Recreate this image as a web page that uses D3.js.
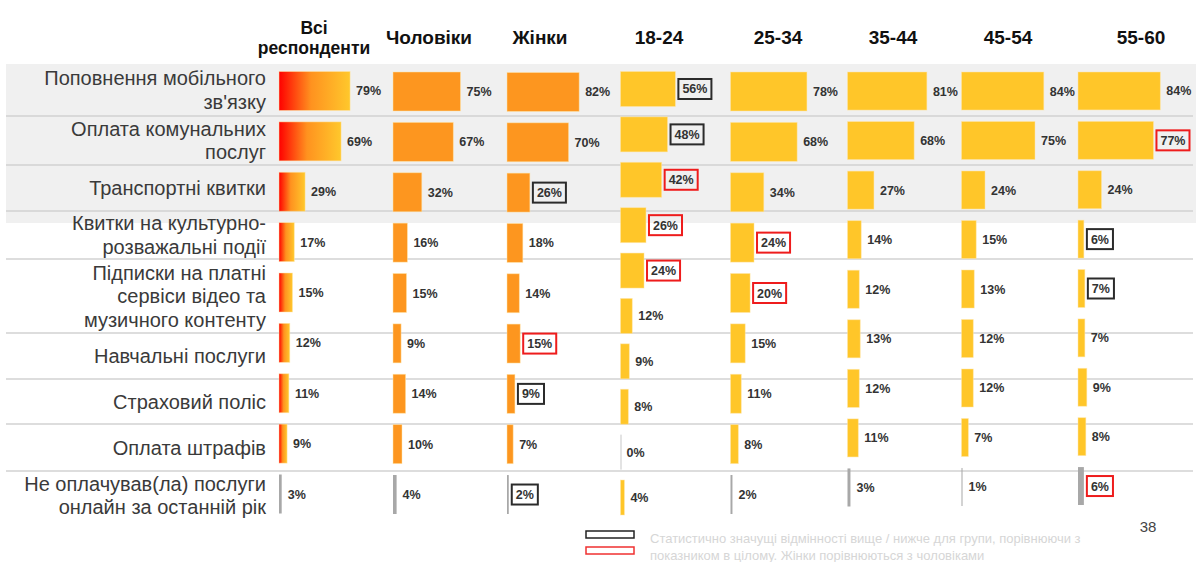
<!DOCTYPE html>
<html>
<head>
<meta charset="utf-8">
<script src="https://cdn.jsdelivr.net/npm/d3@7"></script>
<style>
  body { margin: 0; background: #fff; }
  svg text { font-family: Arial, "Liberation Sans", sans-serif; }
  .cat { font-size: 20px; fill: #3a3a3a; }
  .head { font-size: 19px; font-weight: bold; fill: #111; }
  .val { font-size: 12.5px; font-weight: bold; fill: #333; }
  .note { font-size: 13px; fill: #d6d6d6; }
  .page { font-size: 15px; fill: #444; }
</style>
</head>
<body>
<div id="chart"></div>
<script>
// data
var categories = [
  "Поповнення мобільного\nзв'язку",
  "Оплата комунальних\nпослуг",
  "Транспортні квитки",
  "Квитки на культурно-\nрозважальні події",
  "Підписки на платні\nсервіси відео та\nмузичного контенту",
  "Навчальні послуги",
  "Страховий поліс",
  "Оплата штрафів",
  "Не оплачував(ла) послуги\nонлайн за останній рік"
];
var columnNames = ["Всі\nреспонденти", "Чоловіки", "Жінки", "18-24", "25-34", "35-44", "45-54", "55-60"];

var valuesAll = [79, 69, 29, 17, 15, 12, 11, 9, 3];
var valuesMen = [75, 67, 32, 16, 15, 9, 14, 10, 4];
var valuesWomen = [82, 70, 26, 18, 14, 15, 9, 7, 2];
var values1824 = [56, 48, 42, 26, 24, 12, 9, 8, 0, 4]; // this column has 10 bars on the slide
var values2534 = [78, 68, 34, 24, 20, 15, 11, 8, 2];
var values3544 = [81, 68, 27, 14, 12, 13, 12, 11, 3];
var values4554 = [84, 75, 24, 15, 13, 12, 12, 7, 1];
var values5560 = [84, 77, 24, 6, 7, 7, 9, 8, 6];

// significance marks: "b" = black box, "r" = red box
var sigAll = [];
var sigMen = [];
var sigWomen = ["", "", "b", "", "", "r", "b", "", "b"];
var sig1824 = ["b", "b", "r", "r", "r", "", "", "", "", ""];
var sig2534 = ["", "", "", "r", "r", "", "", "", ""];
var sig3544 = [];
var sig4554 = [];
var sig5560 = ["", "r", "", "b", "b", "", "", "", "r"];

var noteLines = [
  "Статистично значущі відмінності вище / нижче для групи, порівнюючи з",
  "показником в цілому. Жінки порівнюються з чоловіками"
];
var pageNumber = "38";

// layout
var width = 1198, height = 562;
var rowEdges = [64, 116, 165, 211, 259, 333, 379, 424, 471, 520];
var shadedRows = 3;
var COLORS = { orange: "#fd961f", yellow: "#ffc629", gray: "#a8a8a8", red: "#ee1c1c", black: "#2b2b2b" };

var columns = [
  { values: valuesAll,   sig: sigAll,   x0: 279,   span: 90, head: 314,  headSize: 17.5, top: 71.5, bottom: 513.5, pad: 0.226, fill: "url(#grad)" },
  { values: valuesMen,   sig: sigMen,   x0: 393,   span: 90, head: 429,  top: 72,   bottom: 514,   pad: 0.226, fill: COLORS.orange },
  { values: valuesWomen, sig: sigWomen, x0: 507,   span: 88, head: 540,  top: 72.5, bottom: 514,   pad: 0.226, fill: COLORS.orange },
  { values: values1824,  sig: sig1824,  x0: 620.5, span: 98, head: 659,  top: 71.5, bottom: 515,   pad: 0.229, fill: COLORS.yellow },
  { values: values2534,  sig: sig2534,  x0: 730.5, span: 98, head: 778,  top: 72,   bottom: 514,   pad: 0.226, fill: COLORS.yellow },
  { values: values3544,  sig: sig3544,  x0: 847.5, span: 98, head: 893,  top: 72,   bottom: 506.5, pad: 0.232, fill: COLORS.yellow },
  { values: values4554,  sig: sig4554,  x0: 961.5, span: 98, head: 1008, top: 72,   bottom: 506,   pad: 0.232, fill: COLORS.yellow },
  { values: values5560,  sig: sig5560,  x0: 1078,  span: 98, head: 1141, top: 72,   bottom: 505,   pad: 0.232, fill: COLORS.yellow }
];
var noneIndex = 8; // "Не оплачував" bar is drawn gray

var svg = d3.select("#chart").append("svg")
  .attr("width", width)
  .attr("height", height);

var defs = svg.append("defs");
var grad = defs.append("linearGradient").attr("id", "grad")
  .attr("x1", "0%").attr("x2", "100%").attr("y1", "0%").attr("y2", "0%");
grad.append("stop").attr("offset", "0%").attr("stop-color", "#ff0000");
grad.append("stop").attr("offset", "45%").attr("stop-color", "#ff921f");
grad.append("stop").attr("offset", "100%").attr("stop-color", "#ffc82c");

// shaded band behind first rows
svg.append("rect")
  .attr("x", 6).attr("width", 1190)
  .attr("y", rowEdges[0])
  .attr("height", rowEdges[shadedRows] - rowEdges[0] + 12)
  .attr("fill", "#f0f0f0");

// row separators
svg.append("g").selectAll("line")
  .data(rowEdges.slice(1, -1))
  .enter().append("line")
  .attr("x1", 6).attr("x2", 1193)
  .attr("y1", d => d).attr("y2", d => d)
  .attr("stroke", "#d2d2d2")
  .attr("stroke-width", 1.5);

// category labels
var lineH = 23.5;
var cat = svg.append("g").selectAll("text")
  .data(categories)
  .enter().append("text")
  .attr("class", "cat")
  .attr("text-anchor", "end")
  .attr("x", 266)
  .attr("y", (d, i) => (rowEdges[i] + rowEdges[i + 1]) / 2);
cat.each(function(d) {
  var lines = d.split("\n");
  var t = d3.select(this);
  lines.forEach(function(l, j) {
    t.append("tspan")
      .attr("x", 266)
      .attr("dy", j === 0 ? ((-(lines.length - 1) / 2) * lineH + 7) : lineH)
      .text(l);
  });
});

// column headers
columns.forEach(function(c, ci) {
  var lines = columnNames[ci].split("\n");
  var t = svg.append("text")
    .attr("class", "head")
    .attr("text-anchor", "middle")
    .attr("x", c.head)
    .attr("y", lines.length > 1 ? 34 : 44);
  if (c.headSize) t.style("font-size", c.headSize + "px");
  lines.forEach(function(l, j) {
    t.append("tspan")
      .attr("x", c.head)
      .attr("dy", j === 0 ? 0 : 20)
      .text(l);
  });
});

// bars per column
columns.forEach(function(c) {
  var x = d3.scaleLinear().domain([0, 100]).range([c.x0, c.x0 + c.span]);
  var y = d3.scaleBand()
    .domain(d3.range(c.values.length))
    .range([c.top, c.bottom])
    .paddingInner(c.pad)
    .paddingOuter(0);

  var g = svg.append("g");

  g.selectAll("rect.bar")
    .data(c.values)
    .enter().append("rect")
    .attr("class", "bar")
    .attr("x", x(0))
    .attr("y", (d, i) => y(i))
    .attr("height", y.bandwidth())
    .attr("width", (d, i) => i === noneIndex ? Math.max(1, x(d) - x(0)) : x(d) - x(0))
    .attr("fill", (d, i) => i === noneIndex ? (d === 0 ? "#c8c8c8" : COLORS.gray) : c.fill)
    .attr("stroke", (d, i) => i === noneIndex ? "none" : "rgba(255,230,170,0.6)")
    .attr("stroke-width", 0.8);

  c.values.forEach(function(d, i) {
    var cy = y(i) + y.bandwidth() / 2;
    var mark = c.sig[i];
    var tx = x(d) + (mark ? 7 : 6);
    var t = g.append("text")
      .attr("class", "val")
      .attr("x", tx)
      .attr("y", cy + 4.5)
      .text(d + "%");
    if (mark) {
      var w = t.node().getComputedTextLength();
      g.insert("rect", "text")
        .attr("x", tx - 4)
        .attr("y", cy - 10)
        .attr("width", w + 8)
        .attr("height", 20)
        .attr("fill", "none")
        .attr("stroke", mark === "b" ? COLORS.black : COLORS.red)
        .attr("stroke-width", 2);
    }
  });
});

// legend
var legend = svg.append("g");
legend.append("rect")
  .attr("x", 586).attr("y", 531).attr("width", 48).attr("height", 7)
  .attr("fill", "none").attr("stroke", "#222").attr("stroke-width", 1.5);
legend.append("rect")
  .attr("x", 586).attr("y", 547).attr("width", 48).attr("height", 7)
  .attr("fill", "none").attr("stroke", "#f03030").attr("stroke-width", 1.5);
legend.selectAll("text.note")
  .data(noteLines)
  .enter().append("text")
  .attr("class", "note")
  .attr("x", 650)
  .attr("y", (d, i) => 543 + i * 17)
  .text(d => d);

svg.append("text")
  .attr("class", "page")
  .attr("x", 1148)
  .attr("y", 532)
  .attr("text-anchor", "middle")
  .text(pageNumber);
</script>
</body>
</html>
